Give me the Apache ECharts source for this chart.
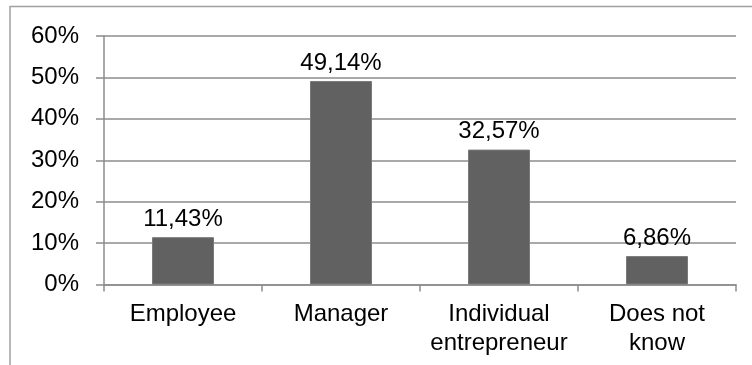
<!DOCTYPE html>
<html>
<head>
<meta charset="utf-8">
<script src="https://cdn.jsdelivr.net/npm/echarts@6/dist/echarts.min.js"></script>
<style>
  html, body { margin: 0; padding: 0; background: #fff; }
  #chart { width: 752px; height: 365px; }
</style>
</head>
<body>
<div id="chart"></div>
<script>
// Survey answers: share of respondents per category
const categories = ['Employee', 'Manager', 'Individual\nentrepreneur', 'Does not\nknow'];
const shares = [11.43, 49.14, 32.57, 6.86];
const yTicks = [0, 10, 20, 30, 40, 50, 60];

const FONT = '"Liberation Sans", Arial, sans-serif';
const AXIS_GRAY = '#8c8c8c';

const chart = echarts.init(document.getElementById('chart'), null, { renderer: 'canvas' });

chart.setOption({
  animation: false,
  backgroundColor: '#fff',
  textStyle: { fontFamily: FONT },
  graphic: [
    // frame around the chart area (top and left edges)
    { type: 'line', shape: { x1: 10, y1: 6.5, x2: 752, y2: 6.5 }, style: { stroke: '#a0a0a0', lineWidth: 1.5 } },
    { type: 'line', shape: { x1: 10, y1: 6, x2: 10, y2: 365 }, style: { stroke: '#a0a0a0', lineWidth: 1.5 } }
  ],
  grid: { left: 104, right: 16, top: 36, bottom: 80.5, containLabel: false },
  xAxis: {
    type: 'category',
    data: categories,
    boundaryGap: true,
    axisLine: { show: true, lineStyle: { color: AXIS_GRAY, width: 1.5 } },
    axisTick: { show: true, length: 7, alignWithLabel: false, lineStyle: { color: AXIS_GRAY, width: 1.5 } },
    axisLabel: {
      color: '#000', fontFamily: FONT, fontSize: 24, lineHeight: 29, margin: 15, interval: 0
    },
    splitLine: { show: false }
  },
  yAxis: {
    type: 'value',
    min: yTicks[0],
    max: yTicks[yTicks.length - 1],
    interval: 10,
    axisLine: { show: true, lineStyle: { color: AXIS_GRAY, width: 1.5 } },
    axisTick: { show: true, length: 8, lineStyle: { color: AXIS_GRAY, width: 1.5 } },
    axisLabel: {
      color: '#000', fontFamily: FONT, fontSize: 24, margin: 25,
      formatter: v => v + '%'
    },
    splitLine: { show: true, lineStyle: { color: AXIS_GRAY, width: 1.5 } }
  },
  series: [{
    type: 'bar',
    data: shares,
    barWidth: 62,
    itemStyle: { color: '#616161', borderColor: '#7a7a7a', borderWidth: 1 },
    label: {
      show: true,
      position: 'top',
      distance: 6,
      color: '#000',
      fontFamily: FONT,
      fontSize: 24,
      formatter: p => p.value.toFixed(2).replace('.', ',') + '%'
    }
  }]
});
</script>
</body>
</html>
